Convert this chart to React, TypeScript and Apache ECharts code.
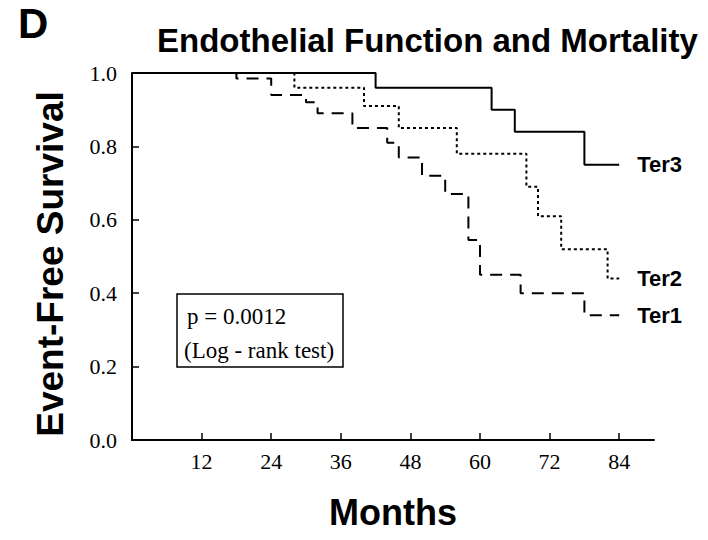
import React, { useEffect, useRef } from "react";
import * as echarts from "echarts";

const ter3Months = [0, 42, 62, 66, 78, 84];
const ter3Surv = [1.0, 0.96, 0.9, 0.84, 0.75, 0.75];

const ter2Months = [0, 28, 40, 46, 56, 68, 70, 74, 82, 84];
const ter2Surv = [1.0, 0.96, 0.91, 0.85, 0.78, 0.69, 0.61, 0.52, 0.44, 0.44];

const ter1Months = [0, 18, 24, 30, 32, 38, 44, 46, 50, 54, 58, 60, 67, 78, 84];
const ter1Surv = [1.0, 0.985, 0.94, 0.92, 0.89, 0.85, 0.81, 0.77, 0.72, 0.67, 0.545, 0.45, 0.4, 0.34, 0.34];

const xTickValues = [12, 24, 36, 48, 60, 72, 84];
const seriesNames = ["Ter3", "Ter2", "Ter1"];
const titleText = "Endothelial Function and Mortality";
const yAxisTitle = "Event-Free Survival";
const xAxisTitle = "Months";
const panelLetter = "D";
const pText1 = "p = 0.0012";
const pText2 = "(Log - rank test)";

const zip = (xs: number[], ys: number[]) => xs.map((x, i) => [x, ys[i]]);

export default function App() {
  const ref = useRef<HTMLDivElement>(null);
  useEffect(() => {
    document.body.style.margin = "0";
    if (!ref.current) return;
    const chart = echarts.init(ref.current, undefined, { renderer: "svg" });
    const sans = "Liberation Sans, Arial, sans-serif";
    const serif = "Liberation Serif, Times New Roman, serif";
    const endLabel = {
      show: true,
      formatter: "{a}",
      distance: 18,
      fontSize: 22,
      fontWeight: "bold" as const,
      fontFamily: sans,
      color: "#000",
    };
    const mk = (name: string, data: number[][], type: any) => ({
      name,
      type: "line",
      step: "end",
      data,
      symbol: "none",
      lineStyle: { color: "#000", width: 2, type },
      endLabel,
      clip: false,
    });
    chart.setOption({
      animation: false,
      backgroundColor: "#fff",
      grid: { left: 132, right: 54, top: 73, bottom: 100 },
      title: {
        text: titleText,
        left: 152,
        top: 19,
        textStyle: { fontFamily: sans, fontSize: 33, fontWeight: "bold", color: "#000" },
      },
      xAxis: {
        type: "value",
        min: 0,
        max: 90,
        interval: 12,
        name: xAxisTitle,
        nameLocation: "middle",
        nameGap: 54,
        nameTextStyle: { fontFamily: sans, fontSize: 36, fontWeight: "bold", color: "#000" },
        axisLine: { show: true, lineStyle: { color: "#000", width: 2 } },
        axisTick: { show: true, inside: true, length: 7, customValues: xTickValues, lineStyle: { color: "#000", width: 1.5 } },
        axisLabel: {
          customValues: xTickValues,
          fontFamily: serif,
          fontSize: 22,
          color: "#000",
          margin: 10,
        },
        splitLine: { show: false },
      },
      yAxis: {
        type: "value",
        min: 0,
        max: 1,
        interval: 0.2,
        axisLine: { show: true, lineStyle: { color: "#000", width: 2 } },
        axisTick: { show: true, inside: true, length: 7, lineStyle: { color: "#000", width: 1.5 } },
        axisLabel: {
          formatter: (v: number) => v.toFixed(1),
          fontFamily: serif,
          fontSize: 22,
          color: "#000",
          margin: 15,
        },
        splitLine: { show: false },
      },
      graphic: [
        {
          type: "text",
          left: 18,
          top: 2,
          style: { text: panelLetter, fontFamily: sans, fontSize: 42, fontWeight: "bold", fill: "#000" },
        },
        {
          type: "text",
          x: 50,
          y: 264,
          rotation: Math.PI / 2,
          style: {
            text: yAxisTitle,
            fontFamily: sans,
            fontSize: 37,
            fontWeight: "bold",
            fill: "#000",
            align: "center",
            verticalAlign: "middle",
          },
        },
        {
          type: "rect",
          shape: { x: 177, y: 294, width: 166, height: 73 },
          style: { fill: "#fff", stroke: "#000", lineWidth: 1.5 },
          z: 10,
        },
        {
          type: "text",
          x: 187,
          y: 316,
          style: { text: pText1, fontFamily: serif, fontSize: 23, fill: "#000", verticalAlign: "middle" },
          z: 11,
        },
        {
          type: "text",
          x: 184,
          y: 350,
          style: { text: pText2, fontFamily: serif, fontSize: 23, fill: "#000", verticalAlign: "middle" },
          z: 11,
        },
      ],
      series: [
        mk(seriesNames[0], zip(ter3Months, ter3Surv), "solid"),
        mk(seriesNames[1], zip(ter2Months, ter2Surv), [3, 3]),
        mk(seriesNames[2], zip(ter1Months, ter1Surv), [12, 8]),
      ],
    });
    return () => chart.dispose();
  }, []);
  return <div ref={ref} style={{ width: 708, height: 540 }} />;
}
